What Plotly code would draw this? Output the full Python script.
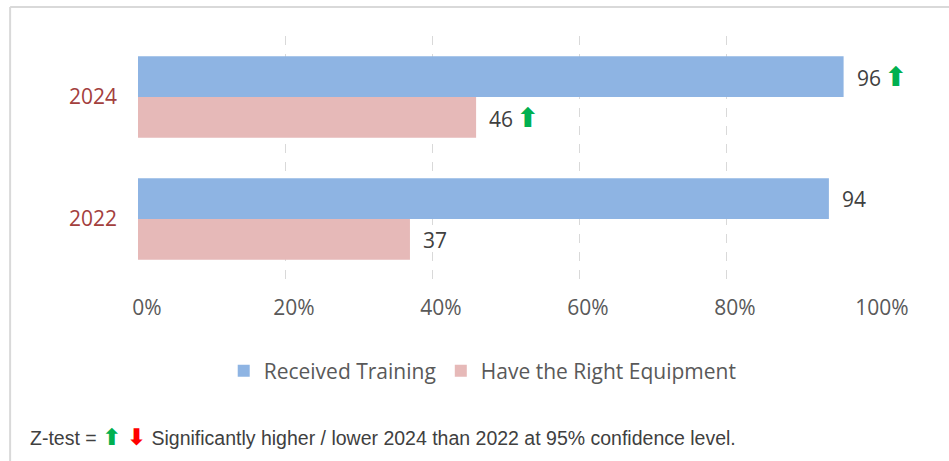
import plotly.graph_objects as go

years = ["2024", "2022"]
received_training = [96, 94]
right_equipment = [46, 37]
training_sig = ["up", ""]
equipment_sig = ["up", ""]
x_ticks = [0, 20, 40, 60, 80, 100]
x_tick_labels = ["0%", "20%", "40%", "60%", "80%", "100%"]

BLUE = "#8EB4E3"
PINK = "#E6B9B8"
GREEN = "#00B050"
RED = "#FF0000"
TXT = "#404040"
FONT = "Open Sans, DejaVu Sans, sans-serif"
FS = 21

fig = go.Figure()
fig.add_trace(go.Bar(y=years, x=received_training, orientation="h", name="Received Training",
                     marker=dict(color=BLUE, line=dict(width=0)), hoverinfo="x+y"))
fig.add_trace(go.Bar(y=years, x=right_equipment, orientation="h", name="Have the Right Equipment",
                     marker=dict(color=PINK, line=dict(width=0)), hoverinfo="x+y"))

def arrow(sig, size):
    if sig == "up":
        return (f"<span style='color:{GREEN};font-family:DejaVu Sans;font-weight:bold;"
                f"font-size:{size}px'>⬆</span>")
    if sig == "down":
        return (f"<span style='color:{RED};font-family:DejaVu Sans;font-weight:bold;"
                f"font-size:{size}px'>⬇</span>")
    return ""

annotations = []
for vals, sigs, shift in [(received_training, training_sig, 20.5), (right_equipment, equipment_sig, -20.5)]:
    for i, (v, s) in enumerate(zip(vals, sigs)):
        lab = f"{v}\u2009{arrow(s, 27)}" if s else f"{v}"
        annotations.append(dict(x=v, y=i, xref="x", yref="y", text=lab,
                                showarrow=False, xanchor="left", yanchor="middle",
                                xshift=11, yshift=shift,
                                font=dict(family=FONT, size=FS, color=TXT)))

annotations.append(dict(
    xref="paper", yref="paper", x=-0.150, y=-0.644, xanchor="left", yanchor="middle",
    showarrow=False,
    text=f"Z-test = {arrow('up', 23)} {arrow('down', 23)} "
         "Significantly higher / lower 2024 than 2022 at 95% confidence level.",
    font=dict(family="Liberation Sans, Arial, sans-serif", size=19.5, color=TXT)))

shapes = [
    dict(type="line", xref="paper", yref="paper", x0=-0.174, x1=1.11, y0=1.119, y1=1.119,
         line=dict(color="#D9D9D9", width=2)),
    dict(type="line", xref="paper", yref="paper", x0=-0.174, x1=-0.174, y0=1.119, y1=-0.75,
         line=dict(color="#D9D9D9", width=2)),
]

fig.update_layout(
    width=949, height=461,
    margin=dict(l=138, r=76, t=36, b=181),
    paper_bgcolor="white", plot_bgcolor="white",
    barmode="group", bargap=0.33, bargroupgap=0,
    font=dict(family=FONT, size=FS, color="#595959"),
    xaxis=dict(range=[0, 100], tickvals=x_ticks, ticktext=x_tick_labels,
               showgrid=True, gridcolor="#D9D9D9", griddash="dash", gridwidth=1,
               zeroline=False, showline=False, ticks="", ticklabelstandoff=13,
               ticklabelshift=9,
               tickfont=dict(family=FONT, size=FS, color="#595959")),
    yaxis=dict(type="category", categoryorder="array", categoryarray=years,
               range=[len(years) - 0.5, -0.5],
               showgrid=False, zeroline=False, showline=False, ticks="",
               ticklabelstandoff=20,
               tickfont=dict(family=FONT, size=FS, color="#A3403D")),
    showlegend=True,
    legend=dict(orientation="h", x=0.469, xanchor="center", y=-0.373, yanchor="middle",
                font=dict(family=FONT, size=FS, color="#595959"), itemclick=False,
                traceorder="normal"),
    annotations=annotations,
    shapes=shapes,
)

fig.write_html("out.html", post_script="document.body.style.margin='0';",
               config={"displayModeBar": False})
